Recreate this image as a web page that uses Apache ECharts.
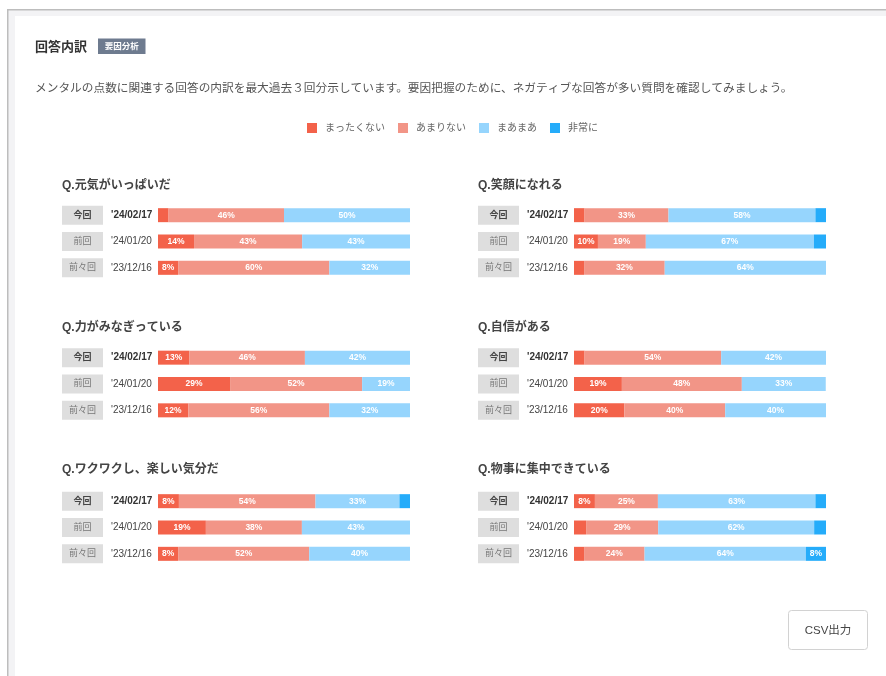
<!DOCTYPE html>
<html lang="ja">
<head>
<meta charset="utf-8">
<title>回答内訳</title>
<script src="https://cdn.jsdelivr.net/npm/echarts@6/dist/echarts.min.js"></script>
<style>
  html, body { margin: 0; padding: 0; background: #fff; }
  #chart { width: 886px; height: 676px; }
</style>
</head>
<body>
<div id="chart"></div>
<script>
// ---- data ----
const answerCats = ['まったくない', 'あまりない', 'まあまあ', '非常に'];
const answerColors = ['#f3624a', '#f29587', '#96d5fd', '#25acfa'];
const rounds = ['今回', '前回', '前々回'];
const roundDates = ["'24/02/17", "'24/01/20", "'23/12/16"];
const questions = ['Q.元気がいっぱいだ', 'Q.笑顔になれる', 'Q.力がみなぎっている', 'Q.自信がある', 'Q.ワクワクし、楽しい気分だ', 'Q.物事に集中できている'];

// values per question: rows = 今回, 前回, 前々回 ; columns = answerCats (%)
const qGenki   = [[4.2, 45.8, 50.0, 0], [14.3, 42.9, 42.9, 0], [8.0, 60.0, 32.0, 0]];
const qEgao    = [[4.2, 33.3, 58.3, 4.2], [9.5, 19.0, 66.7, 4.8], [4.0, 32.0, 64.0, 0]];
const qChikara = [[12.5, 45.8, 41.7, 0], [28.6, 52.4, 19.0, 0], [12.0, 56.0, 32.0, 0]];
const qJishin  = [[4.2, 54.2, 41.7, 0], [19.0, 47.6, 33.3, 0], [20.0, 40.0, 40.0, 0]];
const qWaku    = [[8.3, 54.2, 33.3, 4.2], [19.0, 38.1, 42.9, 0], [8.0, 52.0, 40.0, 0]];
const qShuchu  = [[8.3, 25.0, 62.5, 4.2], [4.8, 28.6, 61.9, 4.8], [4.0, 24.0, 64.0, 8.0]];
const questionValues = [qGenki, qEgao, qChikara, qJishin, qWaku, qShuchu];

// ---- layout ----
const FONT = '"Liberation Sans", "Noto Sans CJK JP", sans-serif';
const panelLeft = [158, 574];
const panelTop = [202, 344.5, 488];
const titleLeft = [62, 478];
const titleTop = [180, 322, 464];

const grids = [], xAxes = [], yAxes = [], series = [], titles = [];
questions.forEach((q, i) => {
  const col = i % 2, row = Math.floor(i / 2);
  grids.push({ left: panelLeft[col], top: panelTop[row], width: 252, height: 79 });
  xAxes.push({ gridIndex: i, type: 'value', min: 0, max: 100, show: false });
  yAxes.push({
    gridIndex: i, type: 'category', data: rounds, inverse: true,
    axisLine: { show: false }, axisTick: { show: false }, splitLine: { show: false },
    axisLabel: {
      margin: 96, align: 'left',
      formatter: (v, idx) => idx === 0
        ? '{cur|' + v + '}{dcur|' + roundDates[idx] + '}'
        : '{prev|' + v + '}{d|' + roundDates[idx] + '}',
      rich: {
        cur: { backgroundColor: '#dedede', width: 41, height: 19, lineHeight: 19, align: 'center', fontSize: 9, fontWeight: 'bold', color: '#444', fontFamily: FONT },
        prev: { backgroundColor: '#dedede', width: 41, height: 19, lineHeight: 19, align: 'center', fontSize: 9, color: '#777', fontFamily: FONT },
        dcur: { fontSize: 10, fontWeight: 'bold', color: '#333', padding: [0, 0, 0, 8], fontFamily: FONT },
        d: { fontSize: 10, color: '#444', padding: [0, 0, 0, 8], fontFamily: FONT }
      }
    }
  });
  titles.push({
    text: q, left: titleLeft[col], top: titleTop[row], padding: 0,
    textStyle: { fontSize: 12, fontWeight: 'bold', color: '#444', fontFamily: FONT }
  });
  answerCats.forEach((name, k) => {
    series.push({
      type: 'bar', name: name, stack: 'q' + i,
      xAxisIndex: i, yAxisIndex: i, barWidth: 14,
      itemStyle: { color: answerColors[k] },
      label: {
        show: true, position: 'inside', color: '#fff', fontSize: 8.5, fontWeight: 'bold', fontFamily: FONT,
        formatter: p => p.value >= 7.5 ? Math.round(p.value) + '%' : ''
      },
      emphasis: { disabled: true },
      data: questionValues[i].map(r => r[k])
    });
  });
});

const chart = echarts.init(document.getElementById('chart'), null, { renderer: 'canvas' });
chart.setOption({
  animation: false,
  textStyle: { fontFamily: FONT },
  title: titles,
  legend: {
    data: answerCats, left: 307, top: 123, padding: 0, itemWidth: 10, itemHeight: 10, itemGap: 13,
    icon: 'rect', selectedMode: false,
    textStyle: { fontSize: 10, color: '#666', padding: [0, 0, 0, 3], fontFamily: FONT }
  },
  grid: grids, xAxis: xAxes, yAxis: yAxes, series: series,
  graphic: [
    { type: 'rect', z: -10, shape: { x: 7, y: 9, width: 879, height: 667 }, style: { fill: '#bdbdbd' } },
    { type: 'rect', z: -9, shape: { x: 8.5, y: 10.5, width: 878, height: 666 }, style: { fill: '#f3f3f5' } },
    { type: 'rect', z: -8, shape: { x: 15, y: 16, width: 871, height: 660 }, style: { fill: '#ffffff' } },
    { type: 'text', left: 35, top: 40.5, style: { text: '回答内訳', fontSize: 13, fontWeight: 'bold', fill: '#333', fontFamily: FONT } },
    { type: 'rect', shape: { x: 98, y: 38.5, width: 47.5, height: 15.5 }, style: { fill: '#6e7b8f' } },
    { type: 'text', x: 121.8, y: 46.8, style: { text: '要因分析', fontSize: 8.5, fontWeight: 'bold', fill: '#fff', align: 'center', verticalAlign: 'middle', fontFamily: FONT } },
    { type: 'text', x: 35, y: 88.5, style: { text: 'メンタルの点数に関連する回答の内訳を最大過去３回分示しています。要因把握のために、ネガティブな回答が多い質問を確認してみましょう。', fontSize: 11.7, fill: '#555', verticalAlign: 'middle', fontFamily: FONT } },
    { type: 'rect', shape: { x: 788.5, y: 610.5, width: 79, height: 39, r: 3 }, style: { fill: '#fff', stroke: '#d2d2d2', lineWidth: 1 } },
    { type: 'text', x: 828, y: 631, style: { text: 'CSV出力', fontSize: 11.5, fill: '#444', align: 'center', verticalAlign: 'middle', fontFamily: FONT } }
  ]
});
</script>
</body>
</html>
